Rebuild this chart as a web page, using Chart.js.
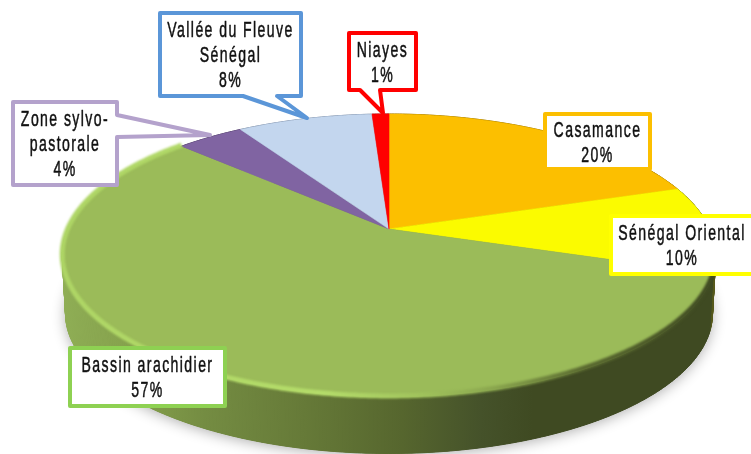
<!DOCTYPE html>
<html>
<head>
<meta charset="utf-8">
<script src="https://cdn.jsdelivr.net/npm/chart.js@4/dist/chart.umd.min.js"></script>
<style>
  html, body { margin: 0; padding: 0; background: #fff; overflow: hidden; }
  canvas { display: block; }
</style>
</head>
<body>
<canvas id="pie" width="751" height="454"></canvas>
<script>
const categories = ["Casamance", "Sénégal Oriental", "Bassin arachidier", "Zone sylvo-pastorale", "Vallée du Fleuve Sénégal", "Niayes"]
const values = [20, 10, 57, 4, 8, 1]
const labelLines = [["Casamance"], ["Sénégal Oriental"], ["Bassin arachidier"], ["Zone sylvo-", "pastorale"], ["Vallée du Fleuve", "Sénégal"], ["Niayes"]]
const faceColors = ["#fcbf00", "#fbfb00", "#9bbb59", "#8064a2", "#c3d6ee", "#ff0000"]
const borderColors = ["#fcbf00", "#ffff00", "#8ed152", "#b4a2cc", "#5b96d8", "#ff0000"]
const sideColors = ["#7f6000", "#55581a", null, "#403151", "#60708a", "#800000"]

// x, y, w, h of the stroked box, tail points are added on the given side
const boxes = [
  { rect: [545, 114, 105, 55] },
  { rect: [611, 216, 145, 58] },
  { rect: [70, 348, 155, 58] },
  { rect: [13, 102, 104, 83], side: "right", tail: [[117, 115], [210, 135], [117, 137]] },
  { rect: [160, 13, 141, 83], side: "bottom", tail: [[277, 96], [307, 118], [243, 96]] },
  { rect: [349, 33, 67, 57], side: "bottom", tail: [[380, 90], [383, 113], [360, 90]] }
]

// view of the tilted disc
const view = { cx: 389, apexY: 229, rx: 321, ky: 93.7, persp: -0.187, depth: 58, shrink: 0.99 }

function project(angle, low) {
  const u = Math.cos(angle)
  const v = Math.sin(angle)
  const w = 1 + view.persp * v
  const x = view.rx * u / w
  const y = (view.apexY + view.ky * v) / w
  if (!low) return [view.cx + x, y]
  return [view.cx + x * view.shrink, 255 + (y - 255) * view.shrink + view.depth]
}

function rim(start, end) {
  const n = Math.max(2, Math.ceil((end - start) / 0.01))
  const angles = []
  for (let i = 0; i <= n; i++) angles.push(start + (end - start) * i / n)
  return angles
}

function sideGradient(ctx) {
  const g = ctx.createLinearGradient(62, 0, 716, 0)
  g.addColorStop(0, "#8fae55")
  g.addColorStop(0.1, "#86a24d")
  g.addColorStop(0.22, "#748c42")
  g.addColorStop(0.37, "#667a38")
  g.addColorStop(0.52, "#56662e")
  g.addColorStop(0.64, "#45522a")
  g.addColorStop(0.72, "#3f4a22")
  g.addColorStop(1, "#3f4a22")
  return g
}

function bevelGradient(ctx) {
  const g = ctx.createLinearGradient(62, 0, 716, 0)
  g.addColorStop(0, "#aed565")
  g.addColorStop(0.4, "#b4dc6a")
  g.addColorStop(0.55, "#a0c25c")
  g.addColorStop(0.66, "#8aa64e")
  g.addColorStop(0.8, "#5a6a30")
  g.addColorStop(1, "#3f4a22")
  return g
}

function tracePoints(ctx, points) {
  ctx.beginPath()
  points.forEach((p, i) => i ? ctx.lineTo(p[0], p[1]) : ctx.moveTo(p[0], p[1]))
  ctx.closePath()
}

const tiltedPie = {
  id: "tiltedPie",
  beforeDatasetsDraw(chart) {
    const ctx = chart.ctx
    const arcs = chart.getDatasetMeta(0).data

    // shadow under the whole disc
    const all = rim(0, Math.PI * 2)
    ctx.save()
    ctx.shadowColor = "rgba(0,0,0,0.32)"
    ctx.shadowBlur = 14
    ctx.shadowOffsetY = 2
    ctx.fillStyle = "#3f4a22"
    tracePoints(ctx, all.map(a => project(a, true)))
    ctx.fill()
    ctx.restore()

    // walls, one quad per rim step, the big green slice goes last
    ;[5, 4, 3, 0, 1, 2].forEach(i => {
      const angles = rim(arcs[i].startAngle, arcs[i].endAngle)
      const style = sideColors[i] || sideGradient(ctx)
      ctx.fillStyle = style
      ctx.strokeStyle = style
      ctx.lineWidth = 1
      for (let k = 1; k < angles.length; k++) {
        tracePoints(ctx, [project(angles[k - 1], false), project(angles[k], false), project(angles[k], true), project(angles[k - 1], true)])
        ctx.fill()
        ctx.stroke()
      }
    })

    // top faces
    arcs.forEach(arc => {
      const face = [[view.cx, view.apexY]].concat(rim(arc.startAngle, arc.endAngle).map(a => project(a, false)))
      tracePoints(ctx, face)
      ctx.fillStyle = arc.options.backgroundColor
      ctx.fill()
      ctx.strokeStyle = arc.options.backgroundColor
      ctx.lineWidth = 0.6
      ctx.stroke()
    })

    // soft edge on the green slice
    ctx.save()
    ctx.filter = "blur(1px)"
    ctx.beginPath()
    rim(arcs[2].startAngle, arcs[2].endAngle).forEach((a, i) => {
      const p = project(a, false)
      i ? ctx.lineTo(p[0], p[1] - 1) : ctx.moveTo(p[0], p[1] - 1)
    })
    ctx.strokeStyle = bevelGradient(ctx)
    ctx.lineWidth = 5
    ctx.stroke()
    ctx.restore()

    return false
  },
  afterDraw(chart) {
    const ctx = chart.ctx
    boxes.forEach((box, i) => {
      const [x, y, w, h] = box.rect
      const pts = [[x, y], [x + w, y]]
      if (box.side === "right") pts.push(...box.tail)
      pts.push([x + w, y + h])
      if (box.side === "bottom") pts.push(...box.tail)
      pts.push([x, y + h])
      ctx.save()
      tracePoints(ctx, pts)
      ctx.fillStyle = "#fff"
      ctx.fill()
      ctx.strokeStyle = borderColors[i]
      ctx.lineWidth = 4
      ctx.lineJoin = "round"
      ctx.stroke()

      const lines = labelLines[i].concat(values[i] + "%")
      const lineH = 25
      const centerX = i === 1 ? 682 : x + w / 2
      const top = y + h / 2 - (lines.length - 1) * lineH / 2 + 1.5
      ctx.fillStyle = "#111"
      ctx.strokeStyle = "#111"
      ctx.lineWidth = 0.5
      ctx.textAlign = "center"
      ctx.textBaseline = "middle"
      ctx.font = '22px "Liberation Sans"'
      ctx.letterSpacing = "2.2px"
      // squeezed sideways, no condensed face is installed
      lines.forEach((line, j) => {
        ctx.save()
        ctx.translate(centerX, top + j * lineH)
        ctx.scale(0.64, 1)
        ctx.fillText(line, 0, 0)
        ctx.strokeText(line, 0, 0)
        ctx.restore()
      })
      ctx.restore()
    })
  }
}

new Chart(document.getElementById("pie"), {
  type: "pie",
  data: {
    labels: categories,
    datasets: [{ data: values, backgroundColor: faceColors, borderWidth: 0 }]
  },
  options: {
    responsive: false,
    animation: false,
    plugins: { legend: { display: false }, tooltip: { enabled: false } }
  },
  plugins: [tiltedPie]
})
</script>
</body>
</html>
